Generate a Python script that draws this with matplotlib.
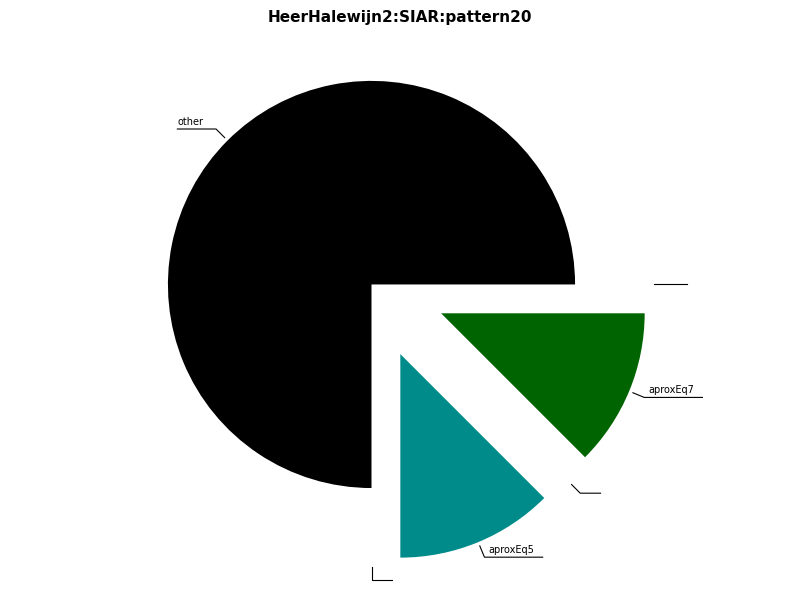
import numpy as np
import matplotlib
matplotlib.use("Agg")
import matplotlib.pyplot as plt

labels = ["other", "", "aproxEq5", "", "aproxEq7", ""]
values = [6, 0, 1, 0, 1, 0]
colors = ["#000000", "#000000", "#008b8b", "#000000", "#006400", "#000000"]
explode = [0, 0.37, 0.37, 0.37, 0.37, 0.37]

fig, ax = plt.subplots(figsize=(8, 6), dpi=100)
wedges, _ = ax.pie(values, colors=colors, explode=explode, startangle=0,
                   counterclock=True, radius=1.0, wedgeprops=dict(linewidth=0))

for w, lab in zip(wedges, labels):
    mid = np.radians((w.theta1 + w.theta2) / 2)
    cx, cy = w.center
    x0, y0 = cx + 1.02 * np.cos(mid), cy + 1.02 * np.sin(mid)
    x1, y1 = cx + 1.08 * np.cos(mid), cy + 1.08 * np.sin(mid)
    side = 1 if np.cos(mid) >= -1e-9 else -1
    tlen = 0.1 if not lab else 0.03 + 0.032 * len(lab)
    x2 = x1 + side * tlen
    ax.plot([x0, x1, x2], [y0, y1, y1], color="black", lw=0.8, clip_on=False)
    if lab:
        tx = x1 + side * 0.02 if side > 0 else x2
        ax.text(tx, y1 + 0.01, lab, fontsize=7, ha="left", va="bottom")

ax.set_aspect("equal")
ax.set_xlim(-1.76, 2.04)
ax.set_ylim(-1.55, 1.25)
ax.axis("off")
ax.set_title("HeerHalewijn2:SIAR:pattern20", fontsize=11, fontweight="bold")
fig.subplots_adjust(left=0, right=1, bottom=0, top=0.95)
fig.savefig("out.png")
